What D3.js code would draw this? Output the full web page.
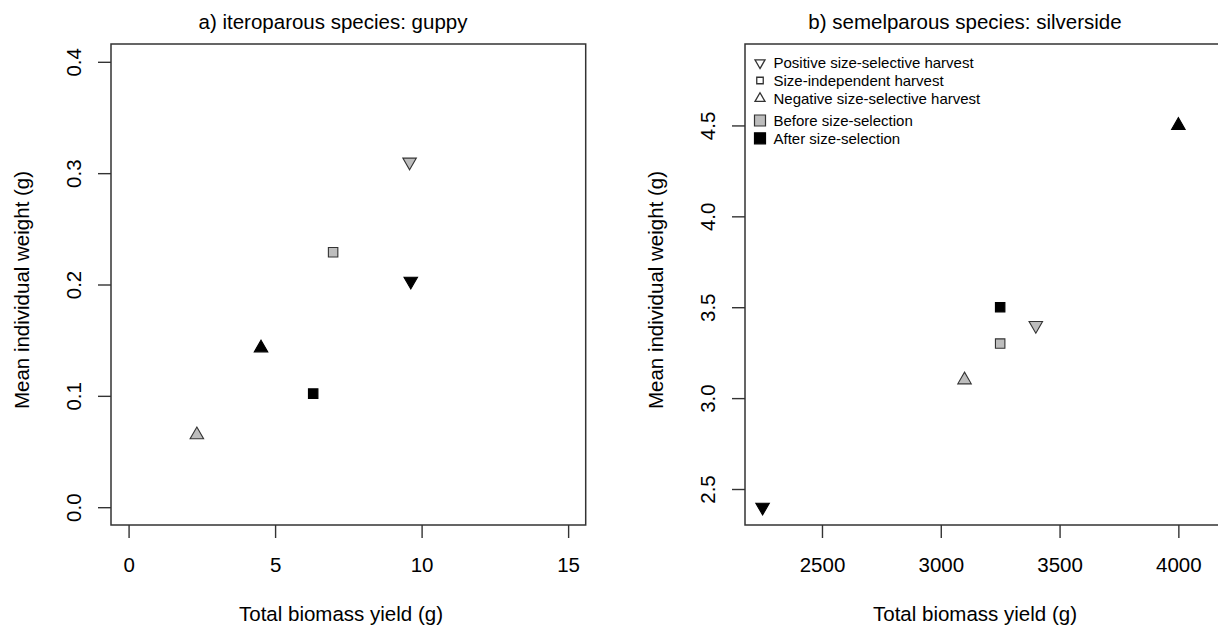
<!DOCTYPE html>
<html>
<head>
<meta charset="utf-8">
<script src="https://cdn.jsdelivr.net/npm/d3@7"></script>
<style>
  body { margin: 0; background: #fff; }
  text { font-family: "Liberation Sans", Arial, Helvetica, sans-serif; fill: #000; }
</style>
</head>
<body>
<div class="vis"></div>
<script>
// treatments, in order: positive, independent, negative
const treatments = ["Positive size-selective harvest", "Size-independent harvest", "Negative size-selective harvest"];
const stages = ["Before size-selection", "After size-selection"];

// a) guppy
const guppyYieldBefore = [9.59, 6.98, 2.33];
const guppyWeightBefore = [0.310, 0.229, 0.065];
const guppyYieldAfter = [9.63, 6.30, 4.52];
const guppyWeightAfter = [0.203, 0.102, 0.143];
const guppyXlim = [0, 15];
const guppyYlim = [0, 0.4];
const guppyXticks = [0, 5, 10, 15];
const guppyYticks = [0, 0.1, 0.2, 0.3, 0.4];

// b) silverside
const silvYieldBefore = [3400, 3250, 3100];
const silvWeightBefore = [3.4, 3.3, 3.1];
const silvYieldAfter = [2250, 3250, 4000];
const silvWeightAfter = [2.4, 3.5, 4.5];
const silvXlim = [2250, 4100];
const silvYlim = [2.4, 4.85];
const silvXticks = [2500, 3000, 3500, 4000];
const silvYticks = [2.5, 3.0, 3.5, 4.0, 4.5];

const W = 1218, H = 633;
const fs = 20.5;
const ink = "#333";
const grey = "#bdbdbd";
const shapeOf = ["down", "square", "up"];

// R pads axis limits by 4% each side
const rlim = lim => {
    let e = (lim[1] - lim[0]) * 0.04;
    return [lim[0] - e, lim[1] + e];
}

const tri = (s, dir) => {
    let h = s * Math.sqrt(3) / 2;
    let a = dir == "up" ? 1 : -1;
    return `M0,${-a * 2 * h / 3}L${s / 2},${a * h / 3}L${-s / 2},${a * h / 3}Z`;
}
const sq = s => `M${-s / 2},${-s / 2}h${s}v${s}h${-s}Z`;
const marker = (shape, s) => shape == "square" ? sq(s * 0.7) : tri(s, shape);

const svg = d3.select(".vis").append("svg")
    .attr("width", W).attr("height", H)
    .style("display", "block")
    .style("background", "#fff");

const drawPanel = p => {
    let x = d3.scaleLinear().domain(rlim(p.xlim)).range([p.x0, p.x1]);
    let y = d3.scaleLinear().domain(rlim(p.ylim)).range([p.y1, p.y0]);
    let g = svg.append("g");

    // x axis
    let gx = g.append("g")
        .attr("transform", `translate(0, ${p.y1})`)
        .call(d3.axisBottom(x).tickValues(p.xticks).tickSize(13).tickFormat(d3.format("d")));
    gx.select(".domain").remove();
    gx.selectAll("line").attr("stroke", ink).attr("stroke-width", 1.4);
    gx.selectAll("text").attr("y", 47).attr("dy", 0)
        .style("font-size", `${fs}px`).attr("fill", "#000");

    // y axis, labels turned like R
    let gy = g.append("g")
        .attr("transform", `translate(${p.x0}, 0)`)
        .call(d3.axisLeft(y).tickValues(p.yticks).tickSize(13).tickFormat(d3.format(".1f")));
    gy.select(".domain").remove();
    gy.selectAll("line").attr("stroke", ink).attr("stroke-width", 1.4);
    gy.selectAll("text")
        .attr("transform", "rotate(-90)")
        .attr("x", 0).attr("y", -30).attr("dy", 0)
        .attr("text-anchor", "middle")
        .style("font-size", `${fs}px`).attr("fill", "#000");

    g.append("rect")
        .attr("x", p.x0).attr("y", p.y0)
        .attr("width", p.x1 - p.x0).attr("height", p.y1 - p.y0)
        .attr("fill", "none").attr("stroke", ink).attr("stroke-width", 1.5);

    g.append("text")
        .attr("x", p.titleX).attr("y", 29)
        .attr("text-anchor", "middle")
        .style("font-size", `${fs}px`)
        .text(p.title);

    g.append("text")
        .attr("x", p.xlabX).attr("y", 621)
        .attr("text-anchor", "middle")
        .style("font-size", `${fs}px`)
        .text("Total biomass yield (g)");

    g.append("text")
        .attr("transform", `translate(${p.x0 - 82}, ${p.ylabY}) rotate(-90)`)
        .attr("text-anchor", "middle")
        .style("font-size", `${fs}px`)
        .text("Mean individual weight (g)");

    let pts = [];
    p.before[0].forEach((v, i) => pts.push({ x: v, y: p.before[1][i], shape: shapeOf[i], fill: grey, stroke: ink }));
    p.after[0].forEach((v, i) => pts.push({ x: v, y: p.after[1][i], shape: shapeOf[i], fill: "#000", stroke: "#000" }));

    g.selectAll("path.pt").data(pts).enter().append("path")
        .attr("class", "pt")
        .attr("transform", d => `translate(${x(d.x)}, ${y(d.y)})`)
        .attr("d", d => marker(d.shape, 13.5))
        .attr("fill", d => d.fill)
        .attr("stroke", d => d.stroke)
        .attr("stroke-width", 1.1);

    return g;
}

drawPanel({
    x0: 111, x1: 585.7, y0: 44, y1: 525,
    xlim: guppyXlim, ylim: guppyYlim, xticks: guppyXticks, yticks: guppyYticks,
    before: [guppyYieldBefore, guppyWeightBefore],
    after: [guppyYieldAfter, guppyWeightAfter],
    title: "a) iteroparous species: guppy", titleX: 333, xlabX: 341, ylabY: 290
});

const right = drawPanel({
    x0: 745, x1: 1219.7, y0: 44, y1: 525,
    xlim: silvXlim, ylim: silvYlim, xticks: silvXticks, yticks: silvYticks,
    before: [silvYieldBefore, silvWeightBefore],
    after: [silvYieldAfter, silvWeightAfter],
    title: "b) semelparous species: silverside", titleX: 965, xlabX: 975, ylabY: 290
});

// legend (two stacked legends, no border)
const leg = svg.append("g");
const legRows1 = [62.8, 80.5, 98.5];
treatments.forEach((t, i) => {
    leg.append("path")
        .attr("transform", `translate(760, ${legRows1[i]})`)
        .attr("d", shapeOf[i] == "square" ? sq(6.5) : tri(10, shapeOf[i]))
        .attr("fill", "#fff").attr("stroke", ink).attr("stroke-width", 1.3);
    leg.append("text")
        .attr("x", 773.5).attr("y", legRows1[i] + 5.2)
        .style("font-size", "15px")
        .text(t);
});
const legRows2 = [120.5, 138.3];
stages.forEach((t, i) => {
    leg.append("path")
        .attr("transform", `translate(760, ${legRows2[i]})`)
        .attr("d", sq(11))
        .attr("fill", i == 0 ? grey : "#000").attr("stroke", i == 0 ? ink : "#000").attr("stroke-width", 1.2);
    leg.append("text")
        .attr("x", 773.5).attr("y", legRows2[i] + 5.2)
        .style("font-size", "15px")
        .text(t);
});
</script>
</body>
</html>
